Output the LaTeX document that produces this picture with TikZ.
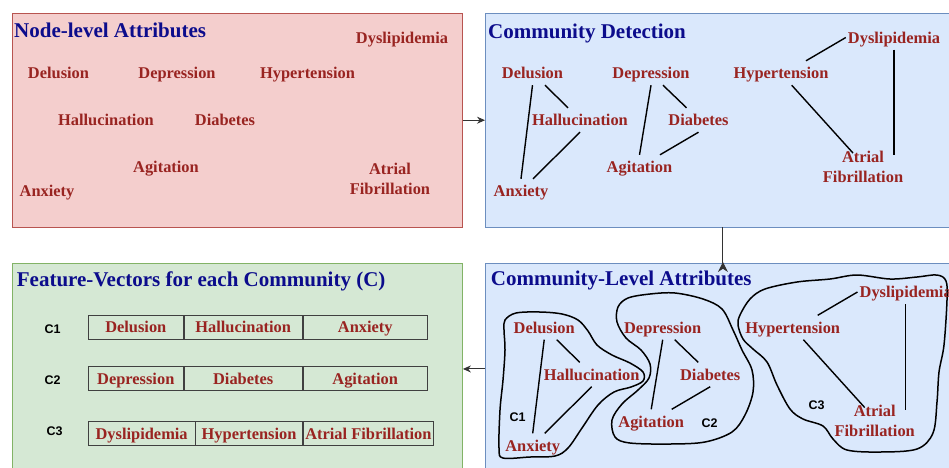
\documentclass[tikz,border=0pt]{standalone}
\usepackage{fontspec}
\setmainfont{Liberation Serif}
\newfontfamily\clsans{Liberation Sans}
\usetikzlibrary{positioning,arrows.meta}
\definecolor{redfill}{RGB}{244,206,205}
\definecolor{redline}{RGB}{184,84,80}
\definecolor{bluefill}{RGB}{218,232,252}
\definecolor{blueline}{RGB}{108,142,191}
\definecolor{greenfill}{RGB}{213,232,212}
\definecolor{greenline}{RGB}{130,179,102}
\definecolor{lblred}{RGB}{153,36,33}
\definecolor{ttlblue}{RGB}{12,12,140}

\begin{document}
\begin{tikzpicture}[x=1pt,y=-1pt]
\tikzstyle{panel}=[draw, line width=0.9pt, inner sep=0pt, anchor=north west]
\tikzstyle{ttl}=[text=ttlblue, font=\fontsize{21}{25}\selectfont\bfseries, inner sep=0pt, anchor=base west]
\tikzstyle{lbl}=[text=lblred, font=\fontsize{16.4}{20}\selectfont\bfseries,
                 text height=11pt, text depth=0pt, inner xsep=2pt, inner ysep=6.5pt]
\tikzstyle{clbl}=[font=\clsans\fontsize{12.5}{14}\selectfont\bfseries, inner sep=1pt]
\tikzstyle{cell}=[lbl, draw=black!75, line width=0.7pt, minimum height=24pt, inner xsep=0pt]
\tikzstyle{edge}=[line width=1.4pt, black]
\tikzstyle{blob}=[line width=1.5pt, black]
\tikzstyle{arr}=[draw=black!80, line width=1pt, -{Stealth[length=8pt,width=7pt]}]
\useasboundingbox (0,0) rectangle (949,467);
\clip (0,0) rectangle (949,467);
% the four panels
\node[panel, fill=redfill, draw=redline, minimum width=450pt, minimum height=213.5pt] (nl) at (12,13) {};
\node[panel, fill=bluefill, draw=blueline, minimum width=475pt, minimum height=213.5pt] (cd) at (485,13) {};
\node[panel, fill=greenfill, draw=greenline, minimum width=450pt, minimum height=212pt] (fv) at (12,262.5) {};
\node[panel, fill=bluefill, draw=blueline, minimum width=475pt, minimum height=212pt] (cl) at (485,262.5) {};
\node[ttl] (nlt) at ([xshift=2pt,yshift=-24.3pt]nl.north west) {Node-level Attributes};
\node[ttl] (cdt) at ([xshift=3pt,yshift=-25pt]cd.north west) {Community Detection};
\node[ttl] (fvt) at ([xshift=4.7pt,yshift=-24.3pt]fv.north west) {Feature-Vectors for each Community (C)};
\node[ttl] (clt) at ([xshift=5.7pt,yshift=-22.5pt]cl.north west) {Community-Level Attributes};
% node-level attributes
\foreach \n/\x/\y/\t in {del/58.5/72.5/Delusion, dep/177/72.5/Depression, hyp/307.5/72.5/Hypertension,
  dys/402/38/Dyslipidemia, hal/106/120/Hallucination, dia/225/120/Diabetes, agi/166/167/Agitation, anx/47/191/Anxiety}
  \node[lbl] (n-\n) at (\x,\y) {\t};
\node[lbl, align=center, text height=, text depth=] (n-atr) at (390,179) {Atrial\\Fibrillation};
% communities drawn by hand
\draw[blob] plot[smooth cycle, tension=0.55] coordinates {(505,320) (516,313) (540,312) (562,314) (578,320)
  (588,331) (597,345) (612,355) (630,363) (643,372) (643,381) (631,387) (614,392) (598,405) (582,428)
  (568,448) (555,456) (530,457) (503,458) (499,448) (500,410) (503,380) (505,350) (504,330)};
\draw[blob] plot[smooth cycle, tension=0.55] coordinates {(618,307) (628,298) (650,294) (675,293) (703,299)
  (722,309) (733,330) (742,350) (752,370) (753,392) (745,415) (732,432) (705,442) (670,444) (630,443)
  (615,437) (612,420) (622,404) (638,390) (649,378) (650,364) (641,350) (626,338) (617,322)};
\draw[blob] plot[smooth cycle, tension=0.55] coordinates {(740,315) (750,299) (765,289) (797,282) (830,279)
  (857,275) (890,279) (917,277) (937,275) (946,281) (947,300) (944,345) (939,372) (937,402) (933,433)
  (917,449) (880,452) (847,450) (833,439) (823,426) (803,419) (790,409) (777,385) (767,362) (753,349)
  (743,339) (738,325)};
% detected communities (top) and community-level attributes (bottom)
\foreach \p/\dx/\dy in {a/0/0, b/11.7/254.5}{
\begin{scope}[shift={(\dx,\dy)}]
\foreach \n/\x/\y/\t in {del/532.5/73/Delusion, dep/651/73/Depression, hyp/781/73/Hypertension,
  dys/894/37.5/Dyslipidemia, hal/580/120/Hallucination, dia/698.5/120/Diabetes, agi/639.5/167/Agitation, anx/521/191/Anxiety}
  \node[lbl] (\p-\n) at (\x,\y) {\t};
\node[lbl, align=center, text height=, text depth=] (\p-atr) at (863,166.5) {Atrial\\Fibrillation};
\draw[edge] (\p-del.south) -- (\p-anx.north);
\draw[edge] ([xshift=12.5pt]\p-del.south) -- ([xshift=-12pt]\p-hal.north);
\draw[edge] (\p-hal.south) -- ([xshift=12pt]\p-anx.north);
\draw[edge] (\p-dep.south) -- (\p-agi.north);
\draw[edge] ([xshift=12pt]\p-dep.south) -- ([xshift=-12pt]\p-dia.north);
\draw[edge] (\p-dia.south) -- ([xshift=20.5pt]\p-agi.north);
\draw[edge] ([xshift=25pt]\p-hyp.north) -- (\p-dys.west);
\draw[edge] ([xshift=10.7pt]\p-hyp.south) -- ([xshift=-10pt,yshift=-9pt]\p-atr.north);
\draw[edge] (\p-dys.south) -- ([xshift=31pt,yshift=-11pt]\p-atr.north);
\end{scope}}
\node[clbl] (c1) at (517.5,416.7) {C1};
\node[clbl] (c2) at (709.5,422.7) {C2};
\node[clbl] (c3) at (816.5,405) {C3};
% feature vectors
\node[clbl] (r1) at (52.5,329.3) {C1};
\node[clbl] (r2) at (52.5,380) {C2};
\node[clbl] (r3) at (54.5,431) {C3};
\node[cell, minimum width=95pt] (v1a) at (135.8,327.2) {Delusion};
\node[cell, minimum width=118.4pt, right=0pt of v1a] (v1b) {Hallucination};
\node[cell, minimum width=124.3pt, right=0pt of v1b] (v1c) {Anxiety};
\node[cell, minimum width=95pt] (v2a) at (135.8,378.8) {Depression};
\node[cell, minimum width=118.4pt, right=0pt of v2a] (v2b) {Diabetes};
\node[cell, minimum width=124.3pt, right=0pt of v2b] (v2c) {Agitation};
\node[cell, minimum width=106.7pt] (v3a) at (141.65,433.7) {Dyslipidemia};
\node[cell, minimum width=106.7pt, right=0pt of v3a] (v3b) {Hypertension};
\node[cell, minimum width=130.6pt, right=0pt of v3b] (v3c) {Atrial Fibrillation};
% flow between panels
\draw[arr] (nl) -- (cd);
\draw[draw=black!80, line width=1pt, -{Stealth[length=10pt,width=10pt,reversed]}] (cd) -- ([yshift=-9.5pt]cl.north);
\draw[arr] (cl) -- (fv);
\end{tikzpicture}
\end{document}
